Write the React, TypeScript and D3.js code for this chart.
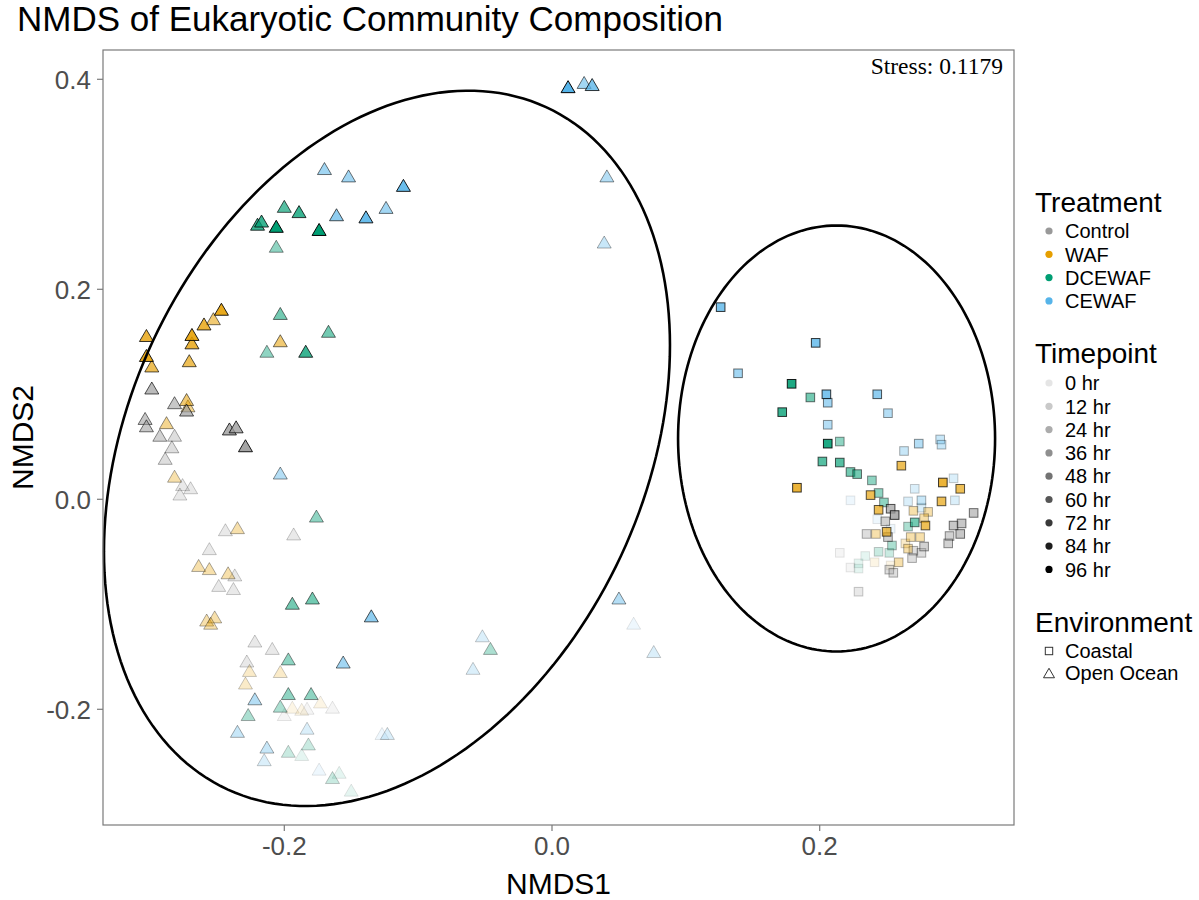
import React from 'react';
import * as d3 from 'd3';

const treatments = ['Control', 'WAF', 'DCEWAF', 'CEWAF'];
const treatmentColors = ['#999999', '#E69F00', '#009E73', '#56B4E9'];
const timepoints = [0, 12, 24, 36, 48, 60, 72, 84, 96];
const environments = ['Coastal', 'Open Ocean'];
const xTicks = [-0.2, 0.0, 0.2];
const yTicks = [-0.2, 0.0, 0.2, 0.4];
const stressValue = 0.1179;
const chartTitle = 'NMDS of Eukaryotic Community Composition';

// [NMDS1, NMDS2, hr]
const controlOpenOcean = [
  [-0.299, 0.106, 60], [-0.282, 0.092, 48], [-0.273, 0.085, 60], [-0.304, 0.077, 48],
  [-0.303, 0.070, 48], [-0.293, 0.061, 36], [-0.282, 0.061, 24], [-0.241, 0.067, 72],
  [-0.236, 0.069, 72], [-0.229, 0.051, 84], [-0.284, 0.050, 24], [-0.289, 0.039, 24],
  [-0.276, 0.014, 12], [-0.270, 0.011, 12], [-0.278, 0.005, 12], [-0.244, -0.029, 12],
  [-0.193, -0.033, 12], [-0.256, -0.047, 12], [-0.237, -0.072, 12], [-0.249, -0.082, 12],
  [-0.238, -0.085, 12], [-0.222, -0.135, 12], [-0.209, -0.142, 12], [-0.228, -0.154, 12],
  [-0.183, -0.199, 0], [-0.164, -0.198, 0], [-0.200, -0.205, 0],
];
const wafOpenOcean = [
  [-0.303, 0.156, 72], [-0.269, 0.157, 84], [-0.269, 0.149, 72], [-0.260, 0.167, 72],
  [-0.253, 0.172, 48], [-0.247, 0.181, 84], [-0.203, 0.151, 48], [-0.303, 0.137, 84],
  [-0.299, 0.127, 60], [-0.271, 0.132, 60], [-0.273, 0.095, 48], [-0.272, 0.089, 36],
  [-0.288, 0.073, 36], [-0.282, 0.022, 24], [-0.235, -0.027, 24], [-0.264, -0.063, 24],
  [-0.256, -0.066, 24], [-0.242, -0.070, 24], [-0.258, -0.115, 24], [-0.252, -0.112, 24],
  [-0.255, -0.118, 24], [-0.226, -0.163, 12], [-0.203, -0.164, 12], [-0.229, -0.175, 12],
  [-0.194, -0.198, 0], [-0.187, -0.200, 0], [-0.173, -0.193, 0],
];
const dcewafOpenOcean = [
  [-0.200, 0.279, 60], [-0.189, 0.274, 72], [-0.220, 0.262, 72], [-0.217, 0.265, 72],
  [-0.206, 0.260, 96], [-0.174, 0.257, 96], [-0.206, 0.241, 36], [-0.203, 0.177, 48],
  [-0.167, 0.160, 48], [-0.213, 0.141, 36], [-0.184, 0.141, 72], [-0.176, -0.016, 36],
  [-0.194, -0.099, 48], [-0.179, -0.094, 48], [-0.197, -0.152, 36], [-0.197, -0.185, 36],
  [-0.180, -0.185, 36], [-0.203, -0.197, 24], [-0.227, -0.205, 24], [-0.182, -0.233, 12],
  [-0.197, -0.240, 12], [-0.187, -0.243, 0], [-0.159, -0.260, 0], [-0.164, -0.265, 12],
  [-0.150, -0.277, 0], [-0.046, -0.142, 24],
];
const cewafOpenOcean = [
  [-0.170, 0.315, 48], [-0.152, 0.308, 48], [-0.111, 0.299, 84], [-0.161, 0.271, 60],
  [-0.139, 0.269, 84], [-0.124, 0.278, 48], [0.012, 0.393, 96], [0.024, 0.397, 48],
  [0.030, 0.395, 72], [0.041, 0.308, 36], [0.039, 0.245, 24], [-0.203, 0.025, 36],
  [-0.135, -0.111, 60], [-0.156, -0.155, 48], [-0.222, -0.190, 36], [-0.235, -0.221, 24],
  [-0.183, -0.218, 12], [-0.127, -0.223, 0], [-0.123, -0.223, 12], [-0.213, -0.236, 24],
  [-0.215, -0.248, 12], [-0.174, -0.257, 0], [-0.052, -0.130, 12], [-0.059, -0.161, 12],
  [0.050, -0.094, 36], [0.061, -0.118, 0], [0.076, -0.145, 12],
];
const controlCoastal = [
  [0.253, -0.009, 60], [0.256, -0.015, 72], [0.249, -0.021, 36], [0.235, -0.033, 24],
  [0.251, -0.036, 36], [0.315, -0.013, 48], [0.300, -0.025, 48], [0.306, -0.023, 48],
  [0.297, -0.035, 36], [0.305, -0.033, 48], [0.296, -0.042, 36], [0.278, -0.045, 36],
  [0.270, -0.049, 24], [0.276, -0.051, 24], [0.215, -0.051, 0], [0.269, -0.056, 24],
  [0.223, -0.065, 0], [0.252, -0.067, 24], [0.255, -0.070, 24], [0.229, -0.088, 12],
];
const wafCoastal = [
  [0.261, 0.032, 60], [0.183, 0.011, 72], [0.238, 0.004, 60], [0.292, 0.016, 72],
  [0.305, 0.010, 60], [0.291, -0.002, 60], [0.244, -0.010, 60], [0.270, -0.011, 24],
  [0.281, -0.012, 24], [0.278, -0.018, 24], [0.279, -0.025, 60], [0.242, -0.033, 24],
  [0.250, -0.031, 60], [0.268, -0.036, 24], [0.275, -0.036, 24], [0.264, -0.042, 12],
  [0.266, -0.047, 24], [0.259, -0.060, 24], [0.241, -0.060, 0], [0.253, -0.063, 0],
];
const dcewafCoastal = [
  [0.179, 0.110, 84], [0.193, 0.097, 48], [0.172, 0.083, 72], [0.206, 0.053, 84],
  [0.215, 0.055, 36], [0.202, 0.036, 60], [0.215, 0.035, 60], [0.223, 0.026, 48],
  [0.228, 0.024, 48], [0.239, 0.018, 36], [0.244, 0.006, 36], [0.248, -0.003, 36],
  [0.271, -0.022, 48], [0.266, -0.026, 24], [0.254, -0.044, 24], [0.244, -0.050, 12],
  [0.252, -0.051, 12], [0.234, -0.054, 0], [0.229, -0.061, 0], [0.229, -0.066, 0],
];
const cewafCoastal = [
  [0.126, 0.183, 72], [0.197, 0.149, 72], [0.139, 0.120, 48], [0.205, 0.100, 72],
  [0.206, 0.092, 48], [0.243, 0.100, 60], [0.251, 0.082, 36], [0.206, 0.071, 36],
  [0.290, 0.057, 24], [0.291, 0.052, 24], [0.274, 0.053, 36], [0.263, 0.046, 24],
  [0.223, -0.001, 0], [0.271, 0.010, 12], [0.266, -0.002, 12], [0.276, -0.001, 24],
  [0.300, 0.020, 12], [0.301, -0.001, 12], [0.276, -0.008, 12], [0.243, -0.019, 0],
  [0.253, -0.028, 0],
];

// ellipse centres and covariance [sxx, sxy, syy] in NMDS units
const ellipseCenters = [[-0.1233, 0.0485], [0.2126, 0.0579]];
const ellipseCovariances = [[0.044703, 0.020744, 0.116054], [0.014023, 0.0, 0.041152]];

const groups = [
  { treatment: 'Control', env: 'Open Ocean', pts: controlOpenOcean },
  { treatment: 'WAF', env: 'Open Ocean', pts: wafOpenOcean },
  { treatment: 'DCEWAF', env: 'Open Ocean', pts: dcewafOpenOcean },
  { treatment: 'CEWAF', env: 'Open Ocean', pts: cewafOpenOcean },
  { treatment: 'Control', env: 'Coastal', pts: controlCoastal },
  { treatment: 'WAF', env: 'Coastal', pts: wafCoastal },
  { treatment: 'DCEWAF', env: 'Coastal', pts: dcewafCoastal },
  { treatment: 'CEWAF', env: 'Coastal', pts: cewafCoastal },
];

const W = 1199;
const H = 900;
const panel = { left: 103, right: 1014, top: 50, bottom: 825 };
const SANS = '"Liberation Sans", Arial, sans-serif';
const SERIF = '"Liberation Serif", "Times New Roman", serif';

export default function App() {
  const x = d3.scaleLinear().domain([-0.33545, 0.34516]).range([panel.left, panel.right]);
  const y = d3.scaleLinear().domain([-0.3102, 0.4279]).range([panel.bottom, panel.top]);
  const alpha = d3.scaleLinear().domain([0, 96]).range([0.1, 1]);
  const color = d3.scaleOrdinal<string, string>().domain(treatments).range(treatmentColors);
  const fmt = (v: number) => d3.format('.1f')(v).replace('\u2212', '-');

  const tri = (cx: number, cy: number, w = 14, h = 12) =>
    `M${cx},${cy - h / 2}L${cx + w / 2},${cy + h / 2}L${cx - w / 2},${cy + h / 2}Z`;

  const all: { t: string; env: string; p: number[] }[] = [];
  groups.forEach((g) => g.pts.forEach((p) => all.push({ t: g.treatment, env: g.env, p })));
  const sorted = all.slice().sort((a, b) => a.p[2] - b.p[2]);

  const line = d3.line<number[]>().x((d) => x(d[0])).y((d) => y(d[1])).curve(d3.curveLinearClosed);
  const ellipsePaths = ellipseCenters.map((c, i) => {
    const [sxx, sxy, syy] = ellipseCovariances[i];
    const l11 = Math.sqrt(sxx);
    const l21 = sxy / l11;
    const l22 = Math.sqrt(syy - l21 * l21);
    const pts = d3.range(0, 200).map((k) => {
      const t = (k / 200) * 2 * Math.PI;
      const a = Math.cos(t), b = Math.sin(t);
      return [c[0] + l11 * a, c[1] + l21 * a + l22 * b];
    });
    return line(pts) as string;
  });

  const legX = 1049;
  const legLabelX = 1065;
  const rowH = 23.3;

  return (
    <svg width={W} height={H} style={{ position: 'absolute', left: 0, top: 0, background: '#fff' }}>
      <rect x={0} y={0} width={W} height={H} fill="#fff" />
      <text x={17} y={31} fontFamily={SANS} fontSize={35} fill="#000">{chartTitle}</text>

      {sorted.map((d, i) => {
        const cx = x(d.p[0]);
        const cy = y(d.p[1]);
        const a = alpha(d.p[2]);
        const fill = color(d.t);
        if (d.env === 'Coastal') {
          return <rect key={i} x={cx - 4.3} y={cy - 4.3} width={8.6} height={8.6} fill={fill} fillOpacity={a}
            stroke="#000" strokeOpacity={a} strokeWidth={1} />;
        }
        return <path key={i} d={tri(cx, cy)} fill={fill} fillOpacity={a} stroke="#000" strokeOpacity={a}
          strokeWidth={1} strokeLinejoin="miter" />;
      })}

      {ellipsePaths.map((p, i) => (
        <path key={i} d={p} fill="none" stroke="#000" strokeWidth={2.6} />
      ))}

      <rect x={panel.left} y={panel.top} width={panel.right - panel.left} height={panel.bottom - panel.top}
        fill="none" stroke="#7a7a7a" strokeWidth={1.2} />

      <text x={1003} y={74} textAnchor="end" fontFamily={SERIF} fontSize={23.5} fill="#000">
        {`Stress: ${stressValue}`}
      </text>

      {xTicks.map((t) => (
        <g key={'x' + t}>
          <line x1={x(t)} x2={x(t)} y1={panel.bottom} y2={panel.bottom + 6} stroke="#7a7a7a" strokeWidth={1.2} />
          <text x={x(t)} y={panel.bottom + 30} textAnchor="middle" fontFamily={SANS} fontSize={26} fill="#4d4d4d">
            {fmt(t)}
          </text>
        </g>
      ))}
      {yTicks.map((t) => (
        <g key={'y' + t}>
          <line x1={panel.left - 6} x2={panel.left} y1={y(t)} y2={y(t)} stroke="#7a7a7a" strokeWidth={1.2} />
          <text x={panel.left - 12} y={y(t)} dy="0.36em" textAnchor="end" fontFamily={SANS} fontSize={26} fill="#4d4d4d">
            {fmt(t)}
          </text>
        </g>
      ))}
      <text x={(panel.left + panel.right) / 2} y={894} textAnchor="middle" fontFamily={SANS} fontSize={30} fill="#000">NMDS1</text>
      <text transform={`translate(33, ${(panel.top + panel.bottom) / 2}) rotate(-90)`} textAnchor="middle"
        fontFamily={SANS} fontSize={30} fill="#000">NMDS2</text>

      <text x={1035} y={212} fontFamily={SANS} fontSize={28} fill="#000">Treatment</text>
      {treatments.map((t, i) => (
        <g key={t}>
          <circle cx={legX} cy={231 + i * rowH} r={3.6} fill={color(t)} />
          <text x={legLabelX} y={231 + i * rowH} dy="0.36em" fontFamily={SANS} fontSize={20} fill="#000">{t}</text>
        </g>
      ))}

      <text x={1035} y={363} fontFamily={SANS} fontSize={28} fill="#000">Timepoint</text>
      {timepoints.map((t, i) => (
        <g key={t}>
          <circle cx={legX} cy={383 + i * rowH} r={3.6} fill="#000" fillOpacity={alpha(t)} />
          <text x={legLabelX} y={383 + i * rowH} dy="0.36em" fontFamily={SANS} fontSize={20} fill="#000">{`${t} hr`}</text>
        </g>
      ))}

      <text x={1035} y={632} fontFamily={SANS} fontSize={28} fill="#000">Environment</text>
      {environments.map((e, i) => {
        const cy = 651 + i * 22;
        return (
          <g key={e}>
            {e === 'Coastal'
              ? <rect x={legX - 3.7} y={cy - 3.7} width={7.4} height={7.4} fill="none" stroke="#333" strokeWidth={1} />
              : <path d={tri(legX, cy, 11, 9.5)} fill="none" stroke="#333" strokeWidth={1} />}
            <text x={legLabelX} y={cy} dy="0.36em" fontFamily={SANS} fontSize={20} fill="#000">{e}</text>
          </g>
        );
      })}
    </svg>
  );
}
